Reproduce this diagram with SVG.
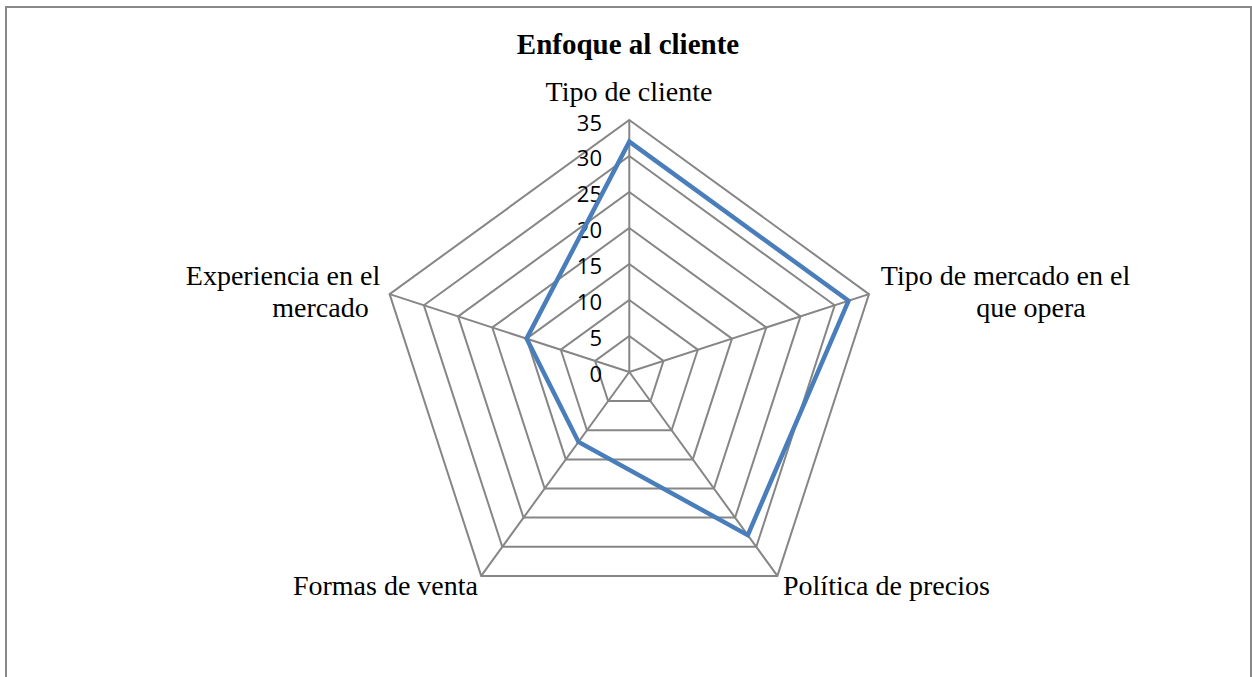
<svg xmlns="http://www.w3.org/2000/svg" width="1252" height="677" viewBox="0 0 1252 677">
<style>
.grid{fill:none;stroke:#868686;stroke-width:2}
.data{fill:none;stroke:#4a7ebb;stroke-width:4.5;stroke-linejoin:miter}
.lbl{font-family:"Liberation Serif","Times New Roman",serif;font-size:28px;fill:#000}
.ttl{font-family:"Liberation Serif","Times New Roman",serif;font-size:29px;font-weight:bold;fill:#000}
.tick{font-family:"Open Sans","Noto Sans",sans-serif;font-size:22px;fill:#000;text-anchor:end}
.mid{text-anchor:middle}
</style>
<rect x="0" y="0" width="1252" height="677" fill="#fff"/>
<rect x="6" y="7" width="1245" height="700" fill="#fff" stroke="#898989" stroke-width="2"/>
<g id="title"><text class="ttl mid" x="628" y="54">Enfoque al cliente</text></g>
<g id="grid">
<polygon class="grid" points="629.3,336 663.5,360.9 650.5,401.1 608.1,401.1 595.1,360.9"/>
<polygon class="grid" points="629.3,300 697.8,349.7 671.6,430.3 587.0,430.3 560.8,349.7"/>
<polygon class="grid" points="629.3,264 732.0,338.6 692.8,459.4 565.8,459.4 526.6,338.6"/>
<polygon class="grid" points="629.3,228 766.3,327.5 713.9,488.5 544.7,488.5 492.3,327.5"/>
<polygon class="grid" points="629.3,192 800.5,316.4 735.1,517.6 523.5,517.6 458.1,316.4"/>
<polygon class="grid" points="629.3,156 834.7,305.3 756.3,546.8 502.3,546.8 423.9,305.3"/>
<polygon class="grid" points="629.3,120 869.0,294.1 777.4,575.9 481.2,575.9 389.6,294.1"/>
<path class="grid" d="M629.3,372V120M629.3,372L869.0,294.1M629.3,372L777.4,575.9M629.3,372L481.2,575.9M629.3,372L389.6,294.1"/>
</g>
<g id="ticks">
<text class="tick" x="602" y="131">35</text>
<text class="tick" x="602" y="166">30</text>
<text class="tick" x="602" y="202">25</text>
<text class="tick" x="602" y="238">20</text>
<text class="tick" x="602" y="274">15</text>
<text class="tick" x="602" y="310">10</text>
<text class="tick" x="602" y="346">5</text>
<text class="tick" x="602" y="382">0</text>
</g>
<g id="series"><polygon class="data" points="629.3,141.6 848.5,300.8 747.8,535.1 578.5,441.9 526.6,338.6"/></g>
<g id="node-tipo-cliente"><text class="lbl mid" x="629" y="101">Tipo de cliente</text></g>
<g id="node-tipo-mercado"><text class="lbl mid" x="1005.5" y="285">Tipo de mercado en el</text><text class="lbl mid" x="1031" y="317">que opera</text></g>
<g id="node-politica"><text class="lbl" x="783" y="595">Política de precios</text></g>
<g id="node-formas"><text class="lbl" x="478" y="595" text-anchor="end">Formas de venta</text></g>
<g id="node-experiencia"><text class="lbl mid" x="283" y="285">Experiencia en el</text><text class="lbl mid" x="320.5" y="317">mercado</text></g>
</svg>
